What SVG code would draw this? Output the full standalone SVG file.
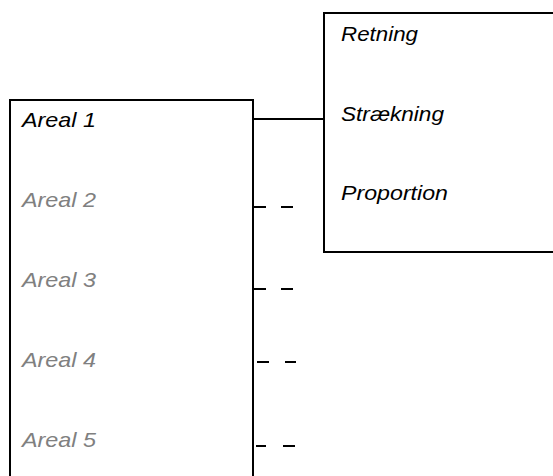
<svg xmlns="http://www.w3.org/2000/svg" width="553" height="476" viewBox="0 0 553 476">
<style>
.box{fill:#fff;stroke:#000;stroke-width:2}
.t{font-family:"Liberation Sans",Arial,sans-serif;font-style:italic;font-size:21px;fill:#000}
.g{fill:#808080}
.c{stroke:#000;stroke-width:2;fill:none}
</style>
<rect width="553" height="476" fill="#fff"/>
<g id="areal">
<rect class="box" x="10" y="100" width="243" height="390"/>
<text class="t" x="22" y="127" textLength="74" lengthAdjust="spacingAndGlyphs">Areal 1</text>
<text class="t g" x="22" y="207" textLength="74" lengthAdjust="spacingAndGlyphs">Areal 2</text>
<text class="t g" x="22" y="287" textLength="74" lengthAdjust="spacingAndGlyphs">Areal 3</text>
<text class="t g" x="22" y="367" textLength="74" lengthAdjust="spacingAndGlyphs">Areal 4</text>
<text class="t g" x="22" y="447" textLength="74" lengthAdjust="spacingAndGlyphs">Areal 5</text>
</g>
<g id="egenskaber">
<rect class="box" x="324" y="13" width="240" height="239"/>
<text class="t" x="341" y="41" textLength="77" lengthAdjust="spacingAndGlyphs">Retning</text>
<text class="t" x="341" y="121" textLength="103" lengthAdjust="spacingAndGlyphs">Strækning</text>
<text class="t" x="341" y="200" textLength="107" lengthAdjust="spacingAndGlyphs">Proportion</text>
</g>
<g id="connectors">
<line class="c" x1="253" y1="119" x2="324" y2="119"/>
<path class="c" d="M253 207H266M281 207H293M253 289H266M281 289H293M257 362H269M285 362H296M256 446H266M283 446H295"/>
</g>
</svg>
